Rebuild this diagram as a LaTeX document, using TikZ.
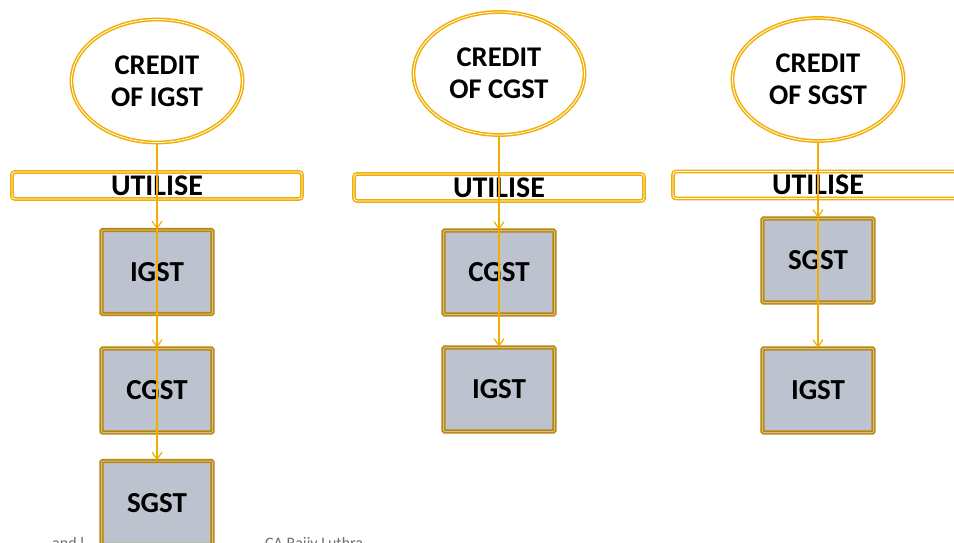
\documentclass[tikz,border=0pt]{standalone}
\usepackage{fontspec}
\setmainfont{Carlito}
\usetikzlibrary{shapes.geometric,arrows.meta}
\definecolor{gold}{RGB}{242,174,0}
\definecolor{darkgold}{RGB}{184,134,11}
\definecolor{lightgold}{RGB}{214,190,140}
\definecolor{boxfill}{RGB}{188,194,206}
\definecolor{notegray}{RGB}{110,110,110}
\begin{document}
\begin{tikzpicture}[x=1pt,y=-1pt,
  credit/.style={ellipse, draw=gold, line width=1.5pt, double=white,
    double distance=0.8pt, fill=white, minimum width=171pt,
    minimum height=123pt, inner sep=0pt, align=center,
    font=\bfseries\fontsize{28.5}{32}\selectfont},
  utilbar/.style={rectangle, rounded corners=3pt, draw=gold, line width=1.5pt,
    double=white, double distance=0.8pt, fill=white, minimum width=290pt,
    minimum height=27pt, inner sep=0pt,
    font=\bfseries\fontsize{30}{30}\selectfont},
  taxbox/.style={rectangle, rounded corners=1pt, draw=darkgold, line width=1.6pt,
    double=lightgold, double distance=1pt, fill=boxfill, minimum width=111pt,
    minimum height=84pt, inner sep=0pt,
    font=\bfseries\fontsize{29}{29}\selectfont},
  conn/.style={draw=gold, line width=1.2pt,
    -{Straight Barb[length=7pt,width=10pt]}},
  note/.style={text=notegray, font=\fontsize{16}{16}\selectfont,
    anchor=base west, inner sep=0pt}
]
\clip (0,0) rectangle (954,543);

% credit ellipses
\node[credit] (e1) at (157,81) {CREDIT\\OF IGST};
\node[credit] (e2) at (499,73.5) {CREDIT\\OF CGST};
\node[credit] (e3) at (818,79.5) {CREDIT\\OF SGST};

% utilise bars
\node[utilbar] (u1) at (157,185.5) {UTILISE};
\node[utilbar] (u2) at (499,187.5) {UTILISE};
\node[utilbar] (u3) at (818,185) {UTILISE};

% first column: IGST credit
\node[taxbox] (i1) at (157,272) {IGST};
\node[taxbox] (c1) at (157,390.5) {CGST};
\node[taxbox] (s1) at (157,503) {SGST};

% second column: CGST credit
\node[taxbox] (c2) at (499,272.5) {CGST};
\node[taxbox] (i2) at (499,389.5) {IGST};

% third column: SGST credit
\node[taxbox] (s3) at (818,260.5) {SGST};
\node[taxbox] (i3) at (818,390.5) {IGST};

% order of utilisation
\draw[conn] (e1.south) -- (i1.north);
\draw[conn] (i1.north) -- (c1.north);
\draw[conn] (c1.north) -- (s1.north);
\draw[conn] (e2.south) -- (c2.north);
\draw[conn] (c2.north) -- (i2.north);
\draw[conn] (e3.south) -- (s3.north);
\draw[conn] (s3.north) -- (i3.north);

% footer, running past the lower edge
\node[note] (f1) at (52,548) {and l};
\node[note] (f2) at (265,548) {CA Rajiv Luthra};
\end{tikzpicture}
\end{document}
